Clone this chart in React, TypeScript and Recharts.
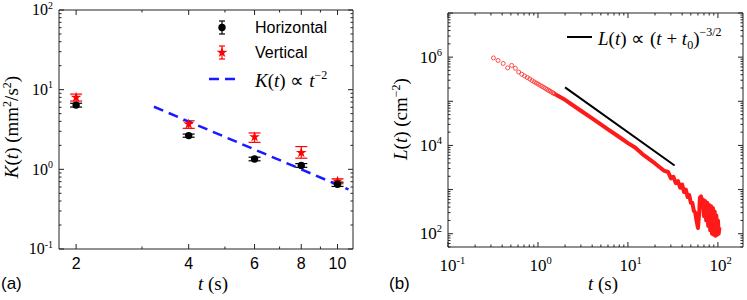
import { ScatterChart, Scatter, XAxis, YAxis, ErrorBar, Symbols, ReferenceArea } from "recharts";

const SERIF = "'Liberation Serif', 'Times New Roman', serif";
const SANS = "'Liberation Sans', Arial, sans-serif";

// panel (a): K(t) at the sampled times
const T_VALUES = [2, 4, 6, 8, 10];
const K_HORIZONTAL = [6.4, 2.65, 1.35, 1.12, 0.65];
const K_HORIZONTAL_ERR = [0.35, 0.12, 0.07, 0.06, 0.04];
const K_VERTICAL = [8.0, 3.7, 2.55, 1.62, 0.71];
const K_VERTICAL_ERR_LOW = [0.8, 0.43, 0.37, 0.24, 0.05];
const K_VERTICAL_ERR_HIGH = [0.8, 0.37, 0.31, 0.31, 0.05];
const K_FIT_T = [3.23, 10.7];
const K_FIT_K = [6.1, 0.56];

// panel (b): L(t), sparse early samples then the dense (noisy) tail
const L_SPARSE_T = [0.32, 0.36, 0.41, 0.46, 0.51, 0.56, 0.61, 0.66, 0.71, 0.76, 0.81, 0.86, 0.91, 0.96, 1.01, 1.06, 1.11, 1.16, 1.21, 1.26, 1.31, 1.36, 1.41, 1.46, 1.51];
const L_SPARSE = [9.6e5, 8.4e5, 7.2e5, 5.7e5, 6.5e5, 5.6e5, 4.6e5, 4.1e5, 3.75e5, 3.45e5, 3.2e5, 2.95e5, 2.75e5, 2.58e5, 2.43e5, 2.29e5, 2.17e5, 2.06e5, 1.95e5, 1.86e5, 1.77e5, 1.7e5, 1.62e5, 1.56e5, 1.5e5];
const L_DENSE_T = [1.5, 2, 3, 4, 5, 6, 8, 10, 12, 15, 20, 25, 28, 30, 32, 34, 36, 38, 40, 42, 44, 46, 48, 50, 52, 54, 56, 58, 60, 62, 63, 65, 66, 68, 70, 72, 74, 76, 78, 80, 82, 84, 86, 88, 90, 92, 94, 96, 98, 100, 102, 104];
const L_DENSE = [1.5e5, 1.08e5, 6.1e4, 4.1e4, 3.0e4, 2.3e4, 1.55e4, 1.13e4, 9.0e3, 6.0e3, 3.9e3, 2.7e3, 2.5e3, 1.8e3, 1.95e3, 1.4e3, 1.55e3, 1.1e3, 1.3e3, 880, 1000, 680, 750, 500, 500, 330, 300, 190, 135, 300, 650, 700, 400, 600, 250, 550, 200, 500, 150, 450, 120, 420, 100, 380, 95, 320, 90, 260, 95, 200, 100, 140];
const L_FIT_T = [2.0, 33];
const L_FIT = [2.06e5, 3.5e3];

// ticks
const A_X_MAJOR = [2, 4, 6, 8, 10];
const A_X_TICKS = [2, 3, 4, 5, 6, 7, 8, 9, 10];
const A_Y_MAJOR = [0.1, 1, 10, 100];
const B_X_MAJOR = [0.1, 1, 10, 100];
const B_Y_MAJOR = [1e2, 1e3, 1e4, 1e5, 1e6, 1e7];
const B_Y_LABELS = [1e2, 1e4, 1e6];

const logTicks = (lo: number, hi: number) => {
  const out: number[] = [];
  for (let e = -3; e <= 8; e++)
    for (let m = 1; m <= 9; m++) {
      const v = m * 10 ** e;
      if (v >= lo * 0.999 && v <= hi * 1.001) out.push(v);
    }
  return out;
};

const same = (a: number, b: number) => Math.abs(a - b) <= 1e-9 * Math.max(a, b);

function Pow({ v, size }: { v: number; size: number }) {
  const e = Math.round(Math.log10(v));
  return (
    <>
      <tspan>10</tspan>
      <tspan dy={-size * 0.42} fontSize={size * 0.62}>{e}</tspan>
    </>
  );
}

// inward tick on the axis side plus its mirror on the opposite frame side
function AxisTick(props: any) {
  const { x, y, payload, side, majors, labels, kind, size = 16, span } = props;
  const v = payload.value as number;
  const len = majors.some((m: number) => same(m, v)) ? 5 : 2.5;
  const showLabel = labels.some((m: number) => same(m, v));
  let lines;
  if (side === "bottom") {
    lines = (
      <>
        <line x1={x} y1={y} x2={x} y2={y - len} stroke="#222" />
        <line x1={x} y1={y - span} x2={x} y2={y - span + len} stroke="#222" />
      </>
    );
  } else {
    lines = (
      <>
        <line x1={x} y1={y} x2={x + len} y2={y} stroke="#222" />
        <line x1={x + span} y1={y} x2={x + span - len} y2={y} stroke="#222" />
      </>
    );
  }
  let label = null;
  if (showLabel && side === "bottom" && kind === "plain") {
    label = (
      <text x={x} y={y + 20} textAnchor="middle" style={{ fontFamily: SANS }} fontSize={size} fill="#000">
        {v}
      </text>
    );
  } else if (showLabel && side === "bottom") {
    label = (
      <text x={x - size / 2} y={y + 24} style={{ fontFamily: SERIF }} fontSize={size} fill="#000">
        <Pow v={v} size={size} />
      </text>
    );
  } else if (showLabel) {
    label = (
      <text x={x - 6} y={y + size * 0.34} textAnchor="end" style={{ fontFamily: SERIF }} fontSize={size} fill="#000">
        <Pow v={v} size={size} />
      </text>
    );
  }
  return (
    <g>
      {lines}
      {label}
    </g>
  );
}

const noShape = () => <g />;
const axisBase = { type: "number" as const, scale: "log" as const, allowDataOverflow: true, interval: 0 as const, tickSize: 0, tickMargin: 0, tickLine: false, axisLine: false };

function PanelA() {
  const horizontal = T_VALUES.map((t, i) => ({ t, k: K_HORIZONTAL[i], err: K_HORIZONTAL_ERR[i] }));
  const vertical = T_VALUES.map((t, i) => ({ t, k: K_VERTICAL[i], err: [K_VERTICAL_ERR_LOW[i], K_VERTICAL_ERR_HIGH[i]] }));
  const fit = K_FIT_T.map((t, i) => ({ t, k: K_FIT_K[i] }));
  const xDomain = [1.8, 11];
  const yDomain = [0.1, 100];
  return (
    <ScatterChart width={370} height={300} margin={{ top: 10, right: 17, bottom: 0, left: 0 }}>
      <XAxis {...axisBase} dataKey="t" domain={xDomain} ticks={A_X_TICKS} height={51}
        tick={(p: any) => <AxisTick {...p} side="bottom" majors={A_X_MAJOR} labels={A_X_MAJOR} kind="plain" size={16} span={239} />} />
      <YAxis {...axisBase} dataKey="k" domain={yDomain} ticks={logTicks(0.1, 100)} width={59}
        tick={(p: any) => <AxisTick {...p} side="left" majors={A_Y_MAJOR} labels={A_Y_MAJOR} size={16} span={294} />} />
      <ReferenceArea x1={xDomain[0]} x2={xDomain[1]} y1={yDomain[0]} y2={yDomain[1]} fill="none" fillOpacity={0} stroke="#222" strokeWidth={1} />
      <Scatter data={fit} line={{ stroke: "#1a1aff", strokeWidth: 2.5, strokeDasharray: "10 6" }} shape={noShape} isAnimationActive={false} />
      <Scatter data={vertical} shape={(p: any) => <Symbols cx={p.cx} cy={p.cy} type="star" size={36} fill="#ff0000" />} isAnimationActive={false}>
        <ErrorBar dataKey="err" direction="y" width={6} stroke="#ff0000" strokeWidth={1.2} isAnimationActive={false} />
      </Scatter>
      <Scatter data={horizontal} shape={(p: any) => <circle cx={p.cx} cy={p.cy} r={3.7} fill="#000" />} isAnimationActive={false}>
        <ErrorBar dataKey="err" direction="y" width={6} stroke="#000" strokeWidth={1.2} isAnimationActive={false} />
      </Scatter>
    </ScatterChart>
  );
}

function PanelB() {
  const sparse = L_SPARSE_T.map((t, i) => ({ t, l: L_SPARSE[i] }));
  const dense = L_DENSE_T.map((t, i) => ({ t, l: L_DENSE[i] }));
  const fit = L_FIT_T.map((t, i) => ({ t, l: L_FIT[i] }));
  const xDomain = [0.1, 190];
  const yDomain = [50, 1e7];
  return (
    <ScatterChart width={377} height={300} margin={{ top: 13, right: 4, bottom: 0, left: 0 }}>
      <XAxis {...axisBase} dataKey="t" domain={xDomain} ticks={logTicks(0.1, 190)} height={53}
        tick={(p: any) => <AxisTick {...p} side="bottom" majors={B_X_MAJOR} labels={B_X_MAJOR} size={17} span={234} />} />
      <YAxis {...axisBase} dataKey="l" domain={yDomain} ticks={logTicks(50, 1e7)} width={78}
        tick={(p: any) => <AxisTick {...p} side="left" majors={B_Y_MAJOR} labels={B_Y_LABELS} size={17} span={295} />} />
      <ReferenceArea x1={xDomain[0]} x2={xDomain[1]} y1={yDomain[0]} y2={yDomain[1]} fill="none" fillOpacity={0} stroke="#222" strokeWidth={1} />
      <Scatter data={dense} line={{ stroke: "#ff1a1a", strokeWidth: 4, strokeLinejoin: "round" }} shape={noShape} isAnimationActive={false} />
      <Scatter data={sparse} shape={(p: any) => <circle cx={p.cx} cy={p.cy} r={2} fill="none" stroke="#ff3a3a" strokeWidth={0.9} />} isAnimationActive={false} />
      <Scatter data={fit} line={{ stroke: "#000", strokeWidth: 2 }} shape={noShape} isAnimationActive={false} />
    </ScatterChart>
  );
}

const serif = { fontFamily: SERIF };
const sans = { fontFamily: SANS };

function Annotations() {
  return (
    <svg width={747} height={300} style={{ position: "absolute", left: 0, top: 0, pointerEvents: "none" }}>
      <text x={18} y={127} transform="rotate(-90 18 127)" textAnchor="middle" fontSize={19} style={serif}>
        <tspan fontStyle="italic">K</tspan>(<tspan fontStyle="italic">t</tspan>) (mm<tspan dy={-7} fontSize={12}>2</tspan><tspan dy={7}>/s</tspan><tspan dy={-7} fontSize={12}>2</tspan><tspan dy={7}>)</tspan>
      </text>
      <text x={213} y={290} textAnchor="middle" fontSize={19} style={serif}>
        <tspan fontStyle="italic">t</tspan>  (s)
      </text>
      <text x={407} y={119} transform="rotate(-90 407 119)" textAnchor="middle" fontSize={19} style={serif}>
        <tspan fontStyle="italic">L</tspan>(<tspan fontStyle="italic">t</tspan>) (cm<tspan dy={-7} fontSize={12}>−2</tspan><tspan dy={7}>)</tspan>
      </text>
      <text x={603} y={290} textAnchor="middle" fontSize={19} style={serif}>
        <tspan fontStyle="italic">t</tspan>  (s)
      </text>
      <text x={1} y={289} fontSize={17} style={sans}>(a)</text>
      <text x={389} y={289} fontSize={17} style={sans}>(b)</text>

      {/* legend (a) */}
      <line x1={222} y1={21} x2={222} y2={34} stroke="#000" strokeWidth={1.2} />
      <line x1={219} y1={21} x2={225} y2={21} stroke="#000" strokeWidth={1.2} />
      <line x1={219} y1={34} x2={225} y2={34} stroke="#000" strokeWidth={1.2} />
      <circle cx={222} cy={27.5} r={3.7} fill="#000" />
      <text x={255} y={33} fontSize={16} style={sans}>Horizontal</text>
      <line x1={222} y1={46} x2={222} y2={59} stroke="#ff0000" strokeWidth={1.2} />
      <line x1={219} y1={46} x2={225} y2={46} stroke="#ff0000" strokeWidth={1.2} />
      <line x1={219} y1={59} x2={225} y2={59} stroke="#ff0000" strokeWidth={1.2} />
      <Symbols cx={222} cy={52.5} type="star" size={36} fill="#ff0000" />
      <text x={255} y={58} fontSize={16} style={sans}>Vertical</text>
      <line x1={209} y1={79} x2={237} y2={79} stroke="#1a1aff" strokeWidth={2.5} strokeDasharray="10 6" />
      <text x={255} y={87} fontSize={19} style={serif}>
        <tspan fontStyle="italic">K</tspan>(<tspan fontStyle="italic">t</tspan>) ∝ <tspan fontStyle="italic">t</tspan><tspan dy={-8} fontSize={12}>−2</tspan>
      </text>

      {/* legend (b) */}
      <line x1={567} y1={37} x2={592} y2={37} stroke="#000" strokeWidth={2} />
      <text x={598} y={45} fontSize={19} style={serif}>
        <tspan fontStyle="italic">L</tspan>(<tspan fontStyle="italic">t</tspan>) ∝ (<tspan fontStyle="italic">t</tspan> + <tspan fontStyle="italic">t</tspan><tspan dy={4} fontSize={12}>0</tspan><tspan dy={-4}>)</tspan><tspan dy={-9} fontSize={12}>−3/2</tspan>
      </text>
    </svg>
  );
}

export default function App() {
  return (
    <div style={{ position: "absolute", left: 0, top: 0, width: 747, height: 300, background: "#fff", overflow: "hidden" }}>
      <div style={{ position: "absolute", left: 0, top: 0 }}>
        <PanelA />
      </div>
      <div style={{ position: "absolute", left: 370, top: 0 }}>
        <PanelB />
      </div>
      <Annotations />
    </div>
  );
}
